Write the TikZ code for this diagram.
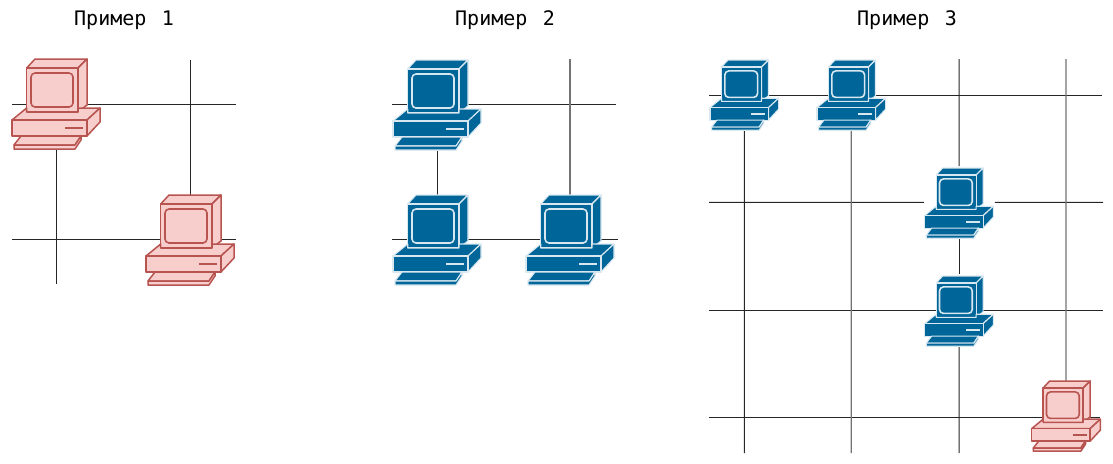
\documentclass[tikz,border=0pt]{standalone}
\usepackage{fontspec}
\setmonofont{DejaVu Sans Mono}
\usetikzlibrary{backgrounds}

\definecolor{pinkfill}{HTML}{F8CECC}
\definecolor{pinkline}{HTML}{B85450}
\definecolor{bluefill}{HTML}{006699}
\tikzset{
    pc/.pic={
        \path[pic actions] (14.7,9) -- (23,0) -- (75,0) -- (66,9) -- cycle;
        \path[pic actions] (66,9) -- (75,0) -- (75,46) -- (66,53) -- cycle;
        \path[pic actions] (14.7,9) rectangle (66,53);
        \path[pic actions] (0,61) -- (14.7,49) -- (14.7,53) -- (66,53) -- (66,49) -- (88,49) -- (75,61) -- cycle;
        \path[pic actions] (75,61) -- (88,49) -- (88,63) -- (75,77) -- cycle;
        \path[pic actions] (0,61) rectangle (75,77);
        \path[pic actions] (9,77) -- (69,77) -- (63,86) -- (2,86) -- cycle;
        \path[pic actions] (2,86) -- (63,86) -- (69,77) -- (69,81) -- (63,90) -- (2,90) -- cycle;
        \path[pic actions, line width=1.6pt, rounded corners=4] (19,14) rectangle (61,48);
        \path[pic actions, line width=1.6pt] (53,69) -- (71,69);
        \coordinate (-top) at (44,0);
        \coordinate (-bot) at (44,91);
        \coordinate (-w) at (-1,44);
        \coordinate (-e) at (90,44);
    },
    pinkpc/.style={fill=pinkfill, draw=pinkline, line width=1.5pt, line join=round},
    bluepc/.style={fill=bluefill, draw=white!85!bluefill, line width=1.1pt, line join=round},
    small/.style={scale=0.78},
    wire/.style={line width=1pt, black!85},
    graywire/.style={line width=1.2pt, black!55},
    title/.style={font=\ttfamily\fontsize{20}{22}\selectfont}
}

\begin{document}
\begin{tikzpicture}[x=1pt, y=-1pt]
    \useasboundingbox (0,0) rectangle (1113,463);

    % Titles
    \node[title] (title1) at (124,20) {Пример~\,1};
    \node[title] (title2) at (505,20) {Пример~\,2};
    \node[title] (title3) at (907,20) {Пример~\,3};

    % Example 1
    \pic[pinkpc] (a1) at (12,59) {pc};
    \pic[pinkpc] (a2) at (146,195) {pc};
    \coordinate (a1w) at (12,104);
    \coordinate (a1e) at (236,104);
    \coordinate (a2w) at (12,239);
    \coordinate (a2e) at (236,239);
    \coordinate (a1s) at (56,284);
    \coordinate (a2n) at (190,60);

    % Example 2
    \pic[bluepc] (b1) at (393,60) {pc};
    \pic[bluepc] (b2) at (393,195) {pc};
    \pic[bluepc] (b3) at (526,195) {pc};
    \coordinate (b1w) at (392,104);
    \coordinate (b1e) at (616,104);
    \coordinate (b2w) at (392,239);
    \coordinate (b2e) at (618,239);
    \coordinate (b3n) at (570,59);

    % Example 3
    \pic[bluepc, small] (c1) at (710,60) {pc};
    \pic[bluepc, small] (c2) at (817,60) {pc};
    \pic[bluepc, small] (c3) at (924.68,168) {pc};
    \pic[bluepc, small] (c4) at (924.68,276) {pc};
    \pic[pinkpc, small] (c5) at (1031.68,381) {pc};
    \coordinate (r1w) at (709,95);
    \coordinate (r1e) at (1102,95);
    \coordinate (r2w) at (709,202.32);
    \coordinate (r2e) at (1103,202.32);
    \coordinate (r3w) at (709,310);
    \coordinate (r3e) at (1103,310);
    \coordinate (r4w) at (709,417);
    \coordinate (r4e) at (1100,417);
    \coordinate (c1s) at (744.32,453);
    \coordinate (c2s) at (851.32,453);
    \coordinate (c3n) at (959,59);
    \coordinate (c4s) at (959,453);
    \coordinate (c5n) at (1066,59);

    % Wires
    \begin{scope}[on background layer]
        \draw[wire] (a1w) -- (a1e);
        \draw[wire] (a2w) -- (a2e);
        \draw[wire] (a1-bot) -- (a1s);
        \draw[wire] (a2n) -- (a2-top);
        \draw[wire] (b1w) -- (b1e);
        \draw[wire] (b2w) -- (b2e);
        \draw[wire] (b1-bot) -- (b2-top);
        \draw[graywire] (b3n) -- (b3-top);
        \draw[wire] (r1w) -- (r1e);
        \draw[wire] (r2w) -- (c3-w);
        \draw[wire] (c3-e) -- (r2e);
        \draw[wire] (r3w) -- (r3e);
        \draw[wire] (r4w) -- (r4e);
        \draw[wire] (c1-bot) -- (c1s);
        \draw[graywire] (c2-bot) -- (c2s);
        \draw[wire, shorten >=2pt] (c3n) -- (c3-top);
        \draw[wire, shorten >=2.5pt] (c3-bot) -- (c4-top);
        \draw[wire] (c4-bot) -- (c4s);
        \draw[graywire] (c5n) -- (c5-top);
    \end{scope}
\end{tikzpicture}
\end{document}
